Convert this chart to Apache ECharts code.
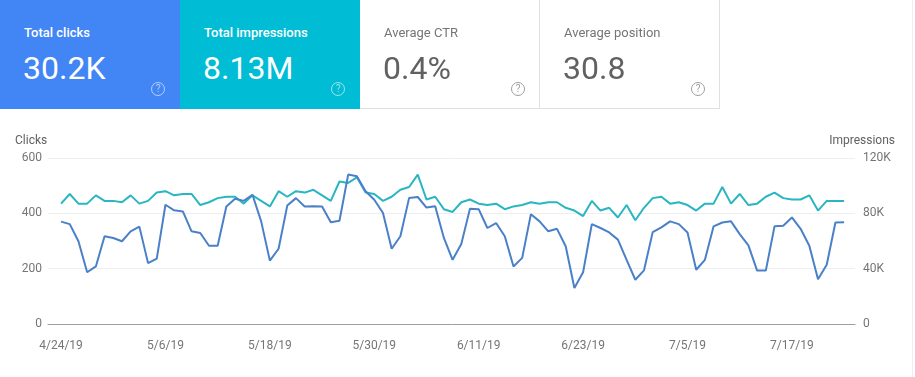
<!DOCTYPE html>
<html>
<head>
<meta charset="utf-8">
<script src="https://cdn.jsdelivr.net/npm/echarts@6/dist/echarts.min.js"></script>
<style>
  html, body { margin: 0; padding: 0; background: #fff; font-family: Roboto, "Noto Sans", sans-serif; }
  #wrap { position: relative; width: 915px; height: 377px; overflow: hidden; }
  #chart { position: absolute; left: 0; top: 0; width: 915px; height: 377px; }
  .card { position: absolute; top: 0; width: 180px; height: 109px; box-sizing: border-box; z-index: 2; }
  .card .title { position: absolute; left: 24px; top: 25px; font-size: 13px; line-height: 16px; }
  .card .value { position: absolute; left: 23px; top: 50px; font-size: 32px; line-height: 36px; }
  .card .help { position: absolute; left: 151px; top: 82px; width: 12px; height: 12px; border-radius: 50%;
                border: 1.3px solid; font-size: 10px; line-height: 12px; text-align: center; }
  .c1 { left: 0; background: #4285f4; color: #fff; }
  .c2 { left: 180px; background: #00bcd4; color: #fff; }
  .c1 .title, .c2 .title { font-weight: 500; }
  .c1 .help, .c2 .help { color: rgba(255,255,255,0.6); border-color: rgba(255,255,255,0.6); }
  .c3 { left: 360px; border-right: 1px solid #e0e0e0; border-bottom: 1px solid #e0e0e0; }
  .c4 { left: 540px; border-right: 1px solid #e0e0e0; border-bottom: 1px solid #e0e0e0; }
  .c3 .title, .c4 .title { color: #757575; }
  .c3 .value, .c4 .value { color: #616161; }
  .c3 .help, .c4 .help { color: #9e9e9e; border-color: #9e9e9e; }
  #edge { position: absolute; left: 912px; top: 0; width: 1px; height: 377px; background: #eeeeee; z-index: 2; }
</style>
</head>
<body>
<div id="wrap">
  <div id="chart"></div>
  <div class="card c1"><div class="title">Total clicks</div><div class="value">30.2K</div><div class="help">?</div></div>
  <div class="card c2"><div class="title">Total impressions</div><div class="value">8.13M</div><div class="help">?</div></div>
  <div class="card c3"><div class="title">Average CTR</div><div class="value">0.4%</div><div class="help">?</div></div>
  <div class="card c4"><div class="title">Average position</div><div class="value">30.8</div><div class="help">?</div></div>
  <div id="edge"></div>
</div>
<script>
// daily values from 4/24/19 to 7/23/19
const startDate = new Date(2019, 3, 24)
const clicks = [
  370, 361, 299, 187, 208, 317, 311, 299, 335, 352,
  220, 236, 431, 411, 407, 335, 329, 283, 283, 425,
  453, 445, 467, 371, 229, 272, 428, 455, 425, 426,
  425, 368, 373, 540, 534, 480, 449, 401, 272, 317,
  455, 459, 421, 426, 311, 232, 289, 417, 415, 347,
  365, 317, 208, 239, 397, 371, 335, 344, 281, 130,
  187, 361, 347, 331, 305, 232, 160, 194, 332, 349,
  371, 361, 331, 196, 232, 353, 367, 371, 325, 284,
  193, 193, 353, 355, 385, 344, 283, 162, 214, 367,
  368
]
const impressions = [
  87000, 94000, 87000, 87000, 93000, 89000, 89000, 88000, 93000, 87000,
  89000, 95000, 96000, 93000, 94000, 94000, 86000, 88000, 91000, 92000,
  92000, 87000, 93000, 89000, 85000, 96000, 92000, 96000, 95000, 97000,
  93000, 89000, 103000, 102000, 106000, 95000, 94000, 89000, 92000, 97000,
  99000, 108000, 90000, 92000, 83000, 81000, 88000, 90000, 87000, 86000,
  87000, 83000, 85000, 86000, 88000, 87000, 88000, 88000, 84000, 82000,
  78000, 89000, 82000, 84000, 77000, 86000, 75000, 84000, 91000, 92000,
  87000, 88000, 86000, 82000, 87000, 87000, 99000, 87000, 94000, 86000,
  87000, 92000, 95000, 91000, 90000, 90000, 93000, 82000, 89000, 89000,
  89000
]
const tickDays = [0, 12, 24, 36, 48, 60, 72, 84]
const clickTicks = [0, 200, 400, 600]
const impressionTicks = [0, 40000, 80000, 120000]

const dateLabel = i => {
  const d = new Date(startDate.getTime())
  d.setDate(d.getDate() + i)
  return (d.getMonth() + 1) + '/' + d.getDate() + '/' + String(d.getFullYear()).slice(2)
}

const chart = echarts.init(document.getElementById('chart'))
const labelStyle = { color: '#757575', fontSize: 12, fontFamily: 'Roboto' }

chart.setOption({
  animation: false,
  textStyle: { fontFamily: 'Roboto' },
  grid: { left: 48, right: 60, top: 158, bottom: 53 },
  graphic: [
    { type: 'text', left: 15, top: 135, style: { text: 'Clicks', fill: '#616161', font: '12px Roboto' } },
    { type: 'text', right: 20, top: 135, style: { text: 'Impressions', fill: '#616161', font: '12px Roboto' } }
  ],
  xAxis: {
    type: 'value',
    min: -1.5,
    max: 91.25,
    axisLine: { show: true, onZero: false, lineStyle: { color: '#9e9e9e', width: 1 } },
    axisTick: { show: false },
    splitLine: { show: false },
    axisLabel: {
      ...labelStyle,
      margin: 16,
      customValues: tickDays,
      formatter: v => dateLabel(v)
    }
  },
  yAxis: [
    {
      type: 'value',
      min: clickTicks[0],
      max: clickTicks[clickTicks.length - 1],
      interval: 200,
      axisLine: { show: false },
      axisTick: { show: false },
      axisLabel: { ...labelStyle, margin: 6 },
      splitLine: { lineStyle: { color: '#eeeeee', width: 1 } }
    },
    {
      type: 'value',
      min: impressionTicks[0],
      max: impressionTicks[impressionTicks.length - 1],
      interval: 40000,
      axisLine: { show: false },
      axisTick: { show: false },
      splitLine: { show: false },
      axisLabel: {
        ...labelStyle,
        margin: 8,
        formatter: v => v === 0 ? '0' : (v / 1000) + 'K'
      }
    }
  ],
  series: [
    {
      name: 'Impressions',
      type: 'line',
      yAxisIndex: 1,
      data: impressions.map((v, i) => [i, v]),
      showSymbol: false,
      lineStyle: { color: '#29b6c2', width: 2 },
      itemStyle: { color: '#29b6c2' }
    },
    {
      name: 'Clicks',
      type: 'line',
      yAxisIndex: 0,
      data: clicks.map((v, i) => [i, v]),
      showSymbol: false,
      lineStyle: { color: '#4a80c8', width: 2 },
      itemStyle: { color: '#4a80c8' }
    }
  ]
})
</script>
</body>
</html>
